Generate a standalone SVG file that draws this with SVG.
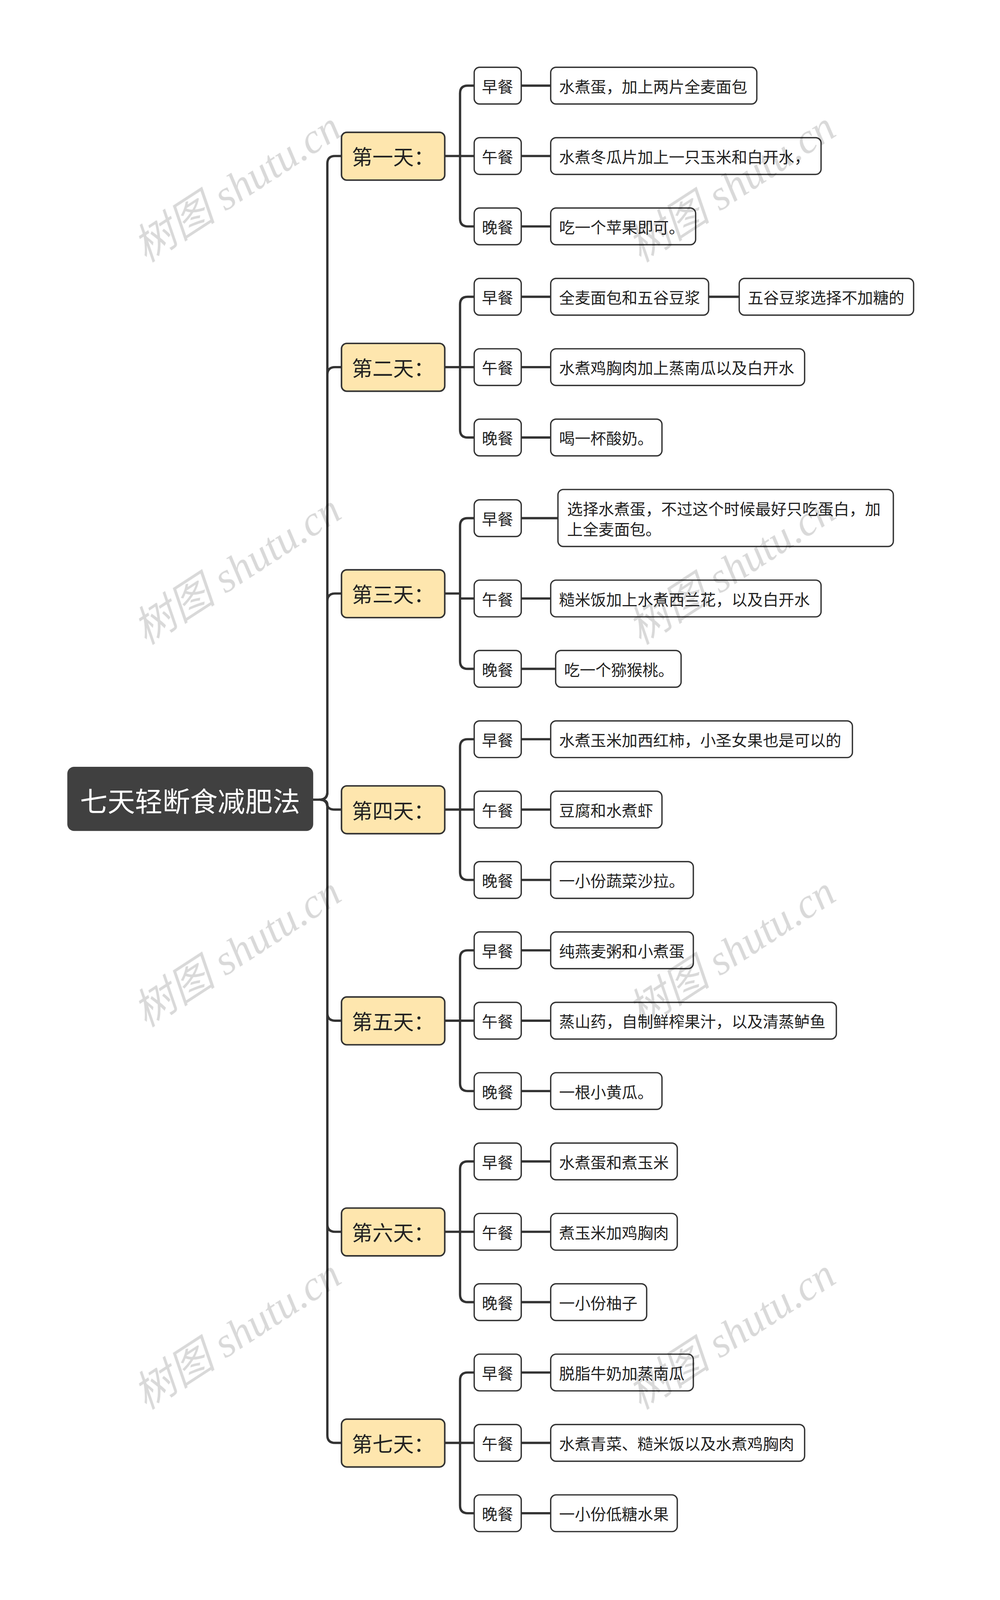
<svg xmlns="http://www.w3.org/2000/svg" width="2560" height="4168" viewBox="0 0 2560 4168">
<style>
.ln{fill:none;stroke:#333;stroke-width:6;stroke-linecap:round}
.day rect{fill:#fee6ae;stroke:#333;stroke-width:4}
.day text{font-family:"Noto Sans CJK SC",sans-serif;font-size:54px;fill:#222;dominant-baseline:central}
.meal rect,.item rect{fill:#fff;stroke:#333;stroke-width:3.5}
.meal text,.item text{font-family:"Noto Sans CJK SC",sans-serif;font-size:41px;fill:#222;dominant-baseline:central}
.wm{font-family:"Liberation Serif","Noto Sans CJK SC",serif;font-style:italic;font-size:110px;fill:#000;opacity:0.15}
</style>
<rect width="2560" height="4168" fill="#fff"/>
<g transform="scale(0.979)">
<g id="connectors">
<path class="ln" d="M819 2091H836Q856 2091 856 2071V428Q856 408 876 408H893"/>
<path class="ln" d="M836 2091Q856 2091 856 2071V980Q856 960 876 960H893"/>
<path class="ln" d="M836 2091Q856 2091 856 2071V1572Q856 1552 876 1552H893"/>
<path class="ln" d="M836 2091Q856 2091 856 2104Q856 2117 876 2117H893"/>
<path class="ln" d="M836 2091Q856 2091 856 2111V2649Q856 2669 876 2669H893"/>
<path class="ln" d="M836 2091Q856 2091 856 2111V3201Q856 3221 876 3221H893"/>
<path class="ln" d="M836 2091Q856 2091 856 2111V3753Q856 3773 876 3773H893"/>
<path class="ln" d="M1163 408H1240M1240 224H1223Q1203 224 1203 244V572Q1203 592 1223 592H1240"/>
<path class="ln" d="M1163 960H1240M1240 776H1223Q1203 776 1203 796V1124Q1203 1144 1223 1144H1240"/>
<path class="ln" d="M1163 1552H1203M1203 1565H1240M1240 1355H1223Q1203 1355 1203 1375V1729Q1203 1749 1223 1749H1240"/>
<path class="ln" d="M1163 2117H1240M1240 1933H1223Q1203 1933 1203 1953V2281Q1203 2301 1223 2301H1240"/>
<path class="ln" d="M1163 2669H1240M1240 2485H1223Q1203 2485 1203 2505V2833Q1203 2853 1223 2853H1240"/>
<path class="ln" d="M1163 3221H1240M1240 3037H1223Q1203 3037 1203 3057V3385Q1203 3405 1223 3405H1240"/>
<path class="ln" d="M1163 3773H1240M1240 3589H1223Q1203 3589 1203 3609V3937Q1203 3957 1223 3957H1240"/>
<path class="ln" d="M1363 224H1440M1363 408H1440M1363 592H1440M1363 776H1440M1853 776H1933M1363 960H1440M1363 1144H1440M1363 1355H1459M1363 1565H1440M1363 1749H1453M1363 1933H1440M1363 2117H1440M1363 2301H1440M1363 2485H1440M1363 2669H1440M1363 2853H1440M1363 3037H1440M1363 3221H1440M1363 3405H1440M1363 3589H1440M1363 3773H1440M1363 3957H1440"/>
</g>
<g id="root"><rect x="176" y="2005" width="643" height="168" rx="18" fill="#404040"/><text x="497" y="2091" text-anchor="middle" dominant-baseline="central" font-family="Noto Sans CJK SC,sans-serif" font-size="72" fill="#fff">七天轻断食减肥法</text></g>
<g id="day1" class="day"><rect x="893" y="346" width="270" height="125" rx="14"/><text x="920" y="408">第一天：</text></g>
<g id="day2" class="day"><rect x="893" y="898" width="270" height="125" rx="14"/><text x="920" y="960">第二天：</text></g>
<g id="day3" class="day"><rect x="893" y="1490" width="270" height="125" rx="14"/><text x="920" y="1552">第三天：</text></g>
<g id="day4" class="day"><rect x="893" y="2055" width="270" height="125" rx="14"/><text x="920" y="2117">第四天：</text></g>
<g id="day5" class="day"><rect x="893" y="2607" width="270" height="125" rx="14"/><text x="920" y="2669">第五天：</text></g>
<g id="day6" class="day"><rect x="893" y="3159" width="270" height="125" rx="14"/><text x="920" y="3221">第六天：</text></g>
<g id="day7" class="day"><rect x="893" y="3711" width="270" height="125" rx="14"/><text x="920" y="3773">第七天：</text></g>
<g id="meals" class="meal">
<g id="m1a"><rect x="1240" y="176" width="123" height="96" rx="14"/><text x="1260" y="224">早餐</text></g>
<g id="m1b"><rect x="1240" y="360" width="123" height="96" rx="14"/><text x="1260" y="408">午餐</text></g>
<g id="m1c"><rect x="1240" y="544" width="123" height="96" rx="14"/><text x="1260" y="592">晚餐</text></g>
<g id="m2a"><rect x="1240" y="728" width="123" height="96" rx="14"/><text x="1260" y="776">早餐</text></g>
<g id="m2b"><rect x="1240" y="912" width="123" height="96" rx="14"/><text x="1260" y="960">午餐</text></g>
<g id="m2c"><rect x="1240" y="1096" width="123" height="96" rx="14"/><text x="1260" y="1144">晚餐</text></g>
<g id="m3a"><rect x="1240" y="1307" width="123" height="96" rx="14"/><text x="1260" y="1355">早餐</text></g>
<g id="m3b"><rect x="1240" y="1517" width="123" height="96" rx="14"/><text x="1260" y="1565">午餐</text></g>
<g id="m3c"><rect x="1240" y="1701" width="123" height="96" rx="14"/><text x="1260" y="1749">晚餐</text></g>
<g id="m4a"><rect x="1240" y="1885" width="123" height="96" rx="14"/><text x="1260" y="1933">早餐</text></g>
<g id="m4b"><rect x="1240" y="2069" width="123" height="96" rx="14"/><text x="1260" y="2117">午餐</text></g>
<g id="m4c"><rect x="1240" y="2253" width="123" height="96" rx="14"/><text x="1260" y="2301">晚餐</text></g>
<g id="m5a"><rect x="1240" y="2437" width="123" height="96" rx="14"/><text x="1260" y="2485">早餐</text></g>
<g id="m5b"><rect x="1240" y="2621" width="123" height="96" rx="14"/><text x="1260" y="2669">午餐</text></g>
<g id="m5c"><rect x="1240" y="2805" width="123" height="96" rx="14"/><text x="1260" y="2853">晚餐</text></g>
<g id="m6a"><rect x="1240" y="2989" width="123" height="96" rx="14"/><text x="1260" y="3037">早餐</text></g>
<g id="m6b"><rect x="1240" y="3173" width="123" height="96" rx="14"/><text x="1260" y="3221">午餐</text></g>
<g id="m6c"><rect x="1240" y="3357" width="123" height="96" rx="14"/><text x="1260" y="3405">晚餐</text></g>
<g id="m7a"><rect x="1240" y="3541" width="123" height="96" rx="14"/><text x="1260" y="3589">早餐</text></g>
<g id="m7b"><rect x="1240" y="3725" width="123" height="96" rx="14"/><text x="1260" y="3773">午餐</text></g>
<g id="m7c"><rect x="1240" y="3909" width="123" height="96" rx="14"/><text x="1260" y="3957">晚餐</text></g>
</g>
<g id="items" class="item">
<g id="i1a"><rect x="1440" y="176" width="539" height="96" rx="14"/><text x="1462" y="224">水煮蛋，加上两片全麦面包</text></g>
<g id="i1b"><rect x="1440" y="360" width="707" height="96" rx="14"/><text x="1462" y="408">水煮冬瓜片加上一只玉米和白开水，</text></g>
<g id="i1c"><rect x="1440" y="544" width="379" height="96" rx="14"/><text x="1462" y="592">吃一个苹果即可。</text></g>
<g id="i2a"><rect x="1440" y="728" width="413" height="96" rx="14"/><text x="1462" y="776">全麦面包和五谷豆浆</text></g>
<g id="i2a2"><rect x="1933" y="728" width="456" height="96" rx="14"/><text x="1955" y="776">五谷豆浆选择不加糖的</text></g>
<g id="i2b"><rect x="1440" y="912" width="664" height="96" rx="14"/><text x="1462" y="960">水煮鸡胸肉加上蒸南瓜以及白开水</text></g>
<g id="i2c"><rect x="1440" y="1096" width="291" height="96" rx="14"/><text x="1462" y="1144">喝一杯酸奶。</text></g>
<g id="i3a"><rect x="1459" y="1280" width="877" height="149" rx="14"/><text x="1483" y="1328">选择水煮蛋，不过这个时候最好只吃蛋白，加</text><text x="1483" y="1382">上全麦面包。</text></g>
<g id="i3b"><rect x="1440" y="1517" width="707" height="96" rx="14"/><text x="1462" y="1565">糙米饭加上水煮西兰花，以及白开水</text></g>
<g id="i3c"><rect x="1453" y="1701" width="328" height="96" rx="14"/><text x="1475" y="1749">吃一个猕猴桃。</text></g>
<g id="i4a"><rect x="1440" y="1885" width="789" height="96" rx="14"/><text x="1462" y="1933">水煮玉米加西红柿，小圣女果也是可以的</text></g>
<g id="i4b"><rect x="1440" y="2069" width="291" height="96" rx="14"/><text x="1462" y="2117">豆腐和水煮虾</text></g>
<g id="i4c"><rect x="1440" y="2253" width="373" height="96" rx="14"/><text x="1462" y="2301">一小份蔬菜沙拉。</text></g>
<g id="i5a"><rect x="1440" y="2437" width="373" height="96" rx="14"/><text x="1462" y="2485">纯燕麦粥和小煮蛋</text></g>
<g id="i5b"><rect x="1440" y="2621" width="747" height="96" rx="14"/><text x="1462" y="2669">蒸山药，自制鲜榨果汁，以及清蒸鲈鱼</text></g>
<g id="i5c"><rect x="1440" y="2805" width="291" height="96" rx="14"/><text x="1462" y="2853">一根小黄瓜。</text></g>
<g id="i6a"><rect x="1440" y="2989" width="331" height="96" rx="14"/><text x="1462" y="3037">水煮蛋和煮玉米</text></g>
<g id="i6b"><rect x="1440" y="3173" width="331" height="96" rx="14"/><text x="1462" y="3221">煮玉米加鸡胸肉</text></g>
<g id="i6c"><rect x="1440" y="3357" width="251" height="96" rx="14"/><text x="1462" y="3405">一小份柚子</text></g>
<g id="i7a"><rect x="1440" y="3541" width="373" height="96" rx="14"/><text x="1462" y="3589">脱脂牛奶加蒸南瓜</text></g>
<g id="i7b"><rect x="1440" y="3725" width="664" height="96" rx="14"/><text x="1462" y="3773">水煮青菜、糙米饭以及水煮鸡胸肉</text></g>
<g id="i7c"><rect x="1440" y="3909" width="331" height="96" rx="14"/><text x="1462" y="3957">一小份低糖水果</text></g>
</g>
<g id="watermarks" class="wm">
<text x="640" y="520" text-anchor="middle" transform="rotate(-33 640 520)">树图 shutu.cn</text>
<text x="1933" y="520" text-anchor="middle" transform="rotate(-33 1933 520)">树图 shutu.cn</text>
<text x="640" y="1520" text-anchor="middle" transform="rotate(-33 640 1520)">树图 shutu.cn</text>
<text x="1933" y="1520" text-anchor="middle" transform="rotate(-33 1933 1520)">树图 shutu.cn</text>
<text x="640" y="2520" text-anchor="middle" transform="rotate(-33 640 2520)">树图 shutu.cn</text>
<text x="1933" y="2520" text-anchor="middle" transform="rotate(-33 1933 2520)">树图 shutu.cn</text>
<text x="640" y="3520" text-anchor="middle" transform="rotate(-33 640 3520)">树图 shutu.cn</text>
<text x="1933" y="3520" text-anchor="middle" transform="rotate(-33 1933 3520)">树图 shutu.cn</text>
</g>
</g>
</svg>
